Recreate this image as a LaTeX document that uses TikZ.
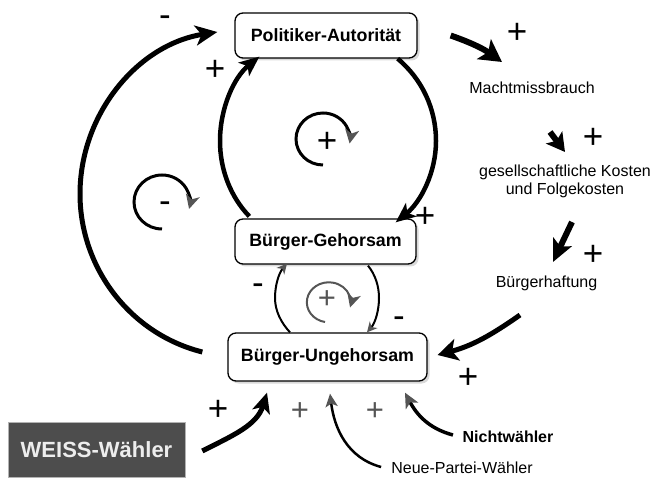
\documentclass[tikz,border=0pt]{standalone}
\usepackage{fontspec}
\setmainfont{Liberation Sans}
\usetikzlibrary{arrows.meta,shadows}
\definecolor{agray}{RGB}{85,85,85}
\definecolor{wbox}{RGB}{77,77,77}
\begin{document}
\begin{tikzpicture}[x=1pt,y=1pt,
  box/.style={draw=black, line width=1.3pt, rounded corners=8pt, fill=white,
    font=\fontsize{17.8}{20}\selectfont\bfseries, inner sep=0pt,
    drop shadow={shadow xshift=2.5pt, shadow yshift=-2.5pt, opacity=0.3}},
  lbl/.style={font=\fontsize{16}{18}\selectfont, inner sep=0pt, align=center},
  pl/.style={font=\fontsize{35}{35}\selectfont, inner sep=0pt},
  mi/.style={font=\fontsize{35}{35}\selectfont, inner sep=0pt, yshift=-4pt},
  gpl/.style={font=\fontsize{31}{31}\selectfont, inner sep=0pt, text=agray},
  bigline/.style={line width=5pt},
  midline/.style={line width=4.5pt},
  thinline/.style={line width=2pt},
  bighead/.style={-{Stealth[length=22pt,width=20pt,inset=6pt]}},
  midhead/.style={-{Stealth[length=20pt,width=17pt,inset=5pt]}},
  smallgray/.style={-{Stealth[length=10pt,width=10pt,inset=3pt,color=agray]}},
  loophead/.style={-{Stealth[length=14pt,width=14pt,inset=4pt,color=agray]}}
]
\useasboundingbox (0,0) rectangle (656,477);

% main boxes
\node[box, minimum width=182pt, minimum height=45pt] (PA) at (326,441.5) {Politiker-Autorität};
\node[box, minimum width=181pt, minimum height=45pt] (BG) at (325.5,235.5) {Bürger-Gehorsam};
\node[box, minimum width=199pt, minimum height=48pt] (BU) at (327.5,120) {Bürger-Ungehorsam};
\node[fill=wbox, draw=gray!60, line width=0.6pt, minimum width=177pt, minimum height=55pt,
  inner sep=0pt, text=white!93!black, font=\fontsize{22}{24}\selectfont\bfseries] (WW) at (96.5,27.5) {WEISS-Wähler};

% text labels
\node[lbl] (MM) at (532,389) {Machtmissbrauch};
\node[lbl] (GK) at (565,296) {gesellschaftliche Kosten\\und Folgekosten};
\node[lbl] (BH) at (546.5,194) {Bürgerhaftung};
\node[lbl, font=\fontsize{16}{18}\selectfont\bfseries] (NW) at (508,40) {Nichtwähler};
\node[lbl] (NP) at (462,9) {Neue-Partei-Wähler};

% helper coordinates (points on the loops' circles)
\coordinate (c1) at (80,283);
\coordinate (c2) at (220,336);
\coordinate (c3) at (436,336);
\coordinate (c8) at (275,179);
\coordinate (c9) at (379,179);

% connectors
\draw[bigline, bighead] ([shift={(-25,5)}]BU.west) to[out=166,in=-90,looseness=0.95] (c1) to[out=90,in=189,looseness=0.97] ([shift={(-17,3.5)}]PA.west);
\draw[midline, midhead] ([shift={(15,2)}]BG.north west) to[out=134,in=-90,looseness=0.88] (c2) to[out=90,in=219,looseness=0.9] ([shift={(25,2)}]PA.south west);
\draw[midline, midhead] ([xshift=-20pt]PA.south east) to[out=-40,in=90,looseness=0.9] (c3) to[out=-90,in=39,looseness=0.9] ([shift={(-21,-4)}]BG.north east);

\draw[line width=6pt, -{Stealth[length=22pt,width=24pt,inset=5pt]}] ([xshift=33pt]PA.east) to[bend left=8] ([shift={(-30,26)}]MM.center);
\draw[line width=6pt, -{Stealth[length=18pt,width=20pt,inset=4pt]}] ([shift={(18,-44)}]MM.center) -- ([shift={(0,29)}]GK.center);
\draw[line width=6pt, -{Stealth[length=22pt,width=20pt,inset=5pt]}] ([shift={(7,-41)}]GK.center) -- ([shift={(6.5,21)}]BH.center);
\draw[bigline, -{Stealth[length=20pt,width=22pt,inset=5pt]}] ([shift={(-26.5,-32)}]BH.center) to[out=215,in=15] ([shift={(10,2)}]BU.east);

\draw[thinline, smallgray] ([xshift=-37.5pt]BU.north) to[out=133,in=-90,looseness=0.88] (c8) to[out=90,in=229,looseness=0.88] ([shift={(-38.5,1)}]BG.south);
\draw[thinline, smallgray] ([shift={(42.5,-1)}]BG.south) to[out=-51,in=90,looseness=0.88] (c9) to[out=-90,in=49,looseness=0.88] ([xshift=39.5pt]BU.north);

\draw[bigline, -{Stealth[length=20pt,width=18pt,inset=5pt]}] ([shift={(17,-1.5)}]WW.east) to[out=27,in=253] ([shift={(-60.5,-11)}]BU.south);
\draw[line width=2.5pt, -{Stealth[length=13pt,width=12pt,inset=3pt,color=agray]}] ([shift={(-10,1)}]NP.west) to[out=165,in=277] ([shift={(2.5,-12)}]BU.south);
\draw[line width=3.5pt, -{Stealth[length=15pt,width=14pt,inset=4pt,color=agray]}] ([shift={(-9.5,2)}]NW.west) to[out=165,in=298] ([shift={(77.5,-11)}]BU.south);

% loop symbols
\draw[line width=3pt, loophead] (323,312) arc[start angle=270, end angle=-10, x radius=27, y radius=26];
\draw[line width=3pt, loophead] (162,248) arc[start angle=270, end angle=-15, x radius=28, y radius=27];
\draw[line width=2pt, agray, loophead] (325,155) arc[start angle=260, end angle=-15, x radius=22, y radius=20];

% polarity signs
\node[mi] (m1) at (165,460) {-};
\node[pl] (p1) at (215,407) {+};
\node[pl] (p2) at (425,260) {+};
\node[pl] (p3) at (517,444) {+};
\node[pl] (p4) at (593,339) {+};
\node[pl] (p5) at (593,222) {+};
\node[pl] (p6) at (468,99) {+};
\node[mi] (m2) at (258,192) {-};
\node[mi] (m3) at (399,159) {-};
\node[pl] (p7) at (218,67) {+};
\node[gpl] (p8) at (300,65) {+};
\node[gpl] (p9) at (375,65) {+};
\node[pl] (lp1) at (327,335) {+};
\node[mi] (lm1) at (165,274) {-};
\node[gpl] (lp2) at (327,177) {+};
\end{tikzpicture}
\end{document}
